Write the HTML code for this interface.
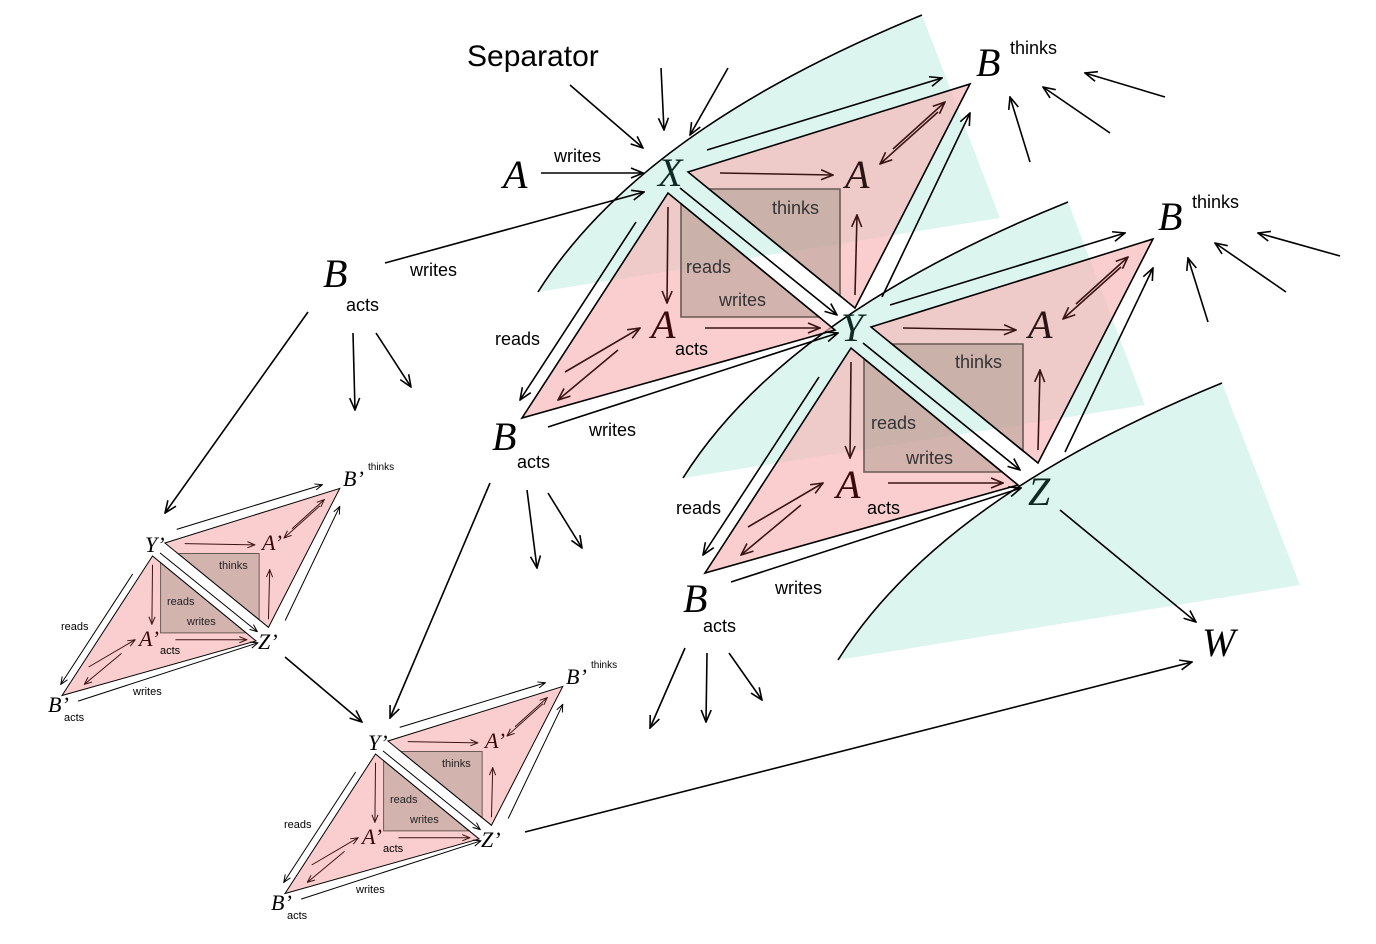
<!DOCTYPE html>
<html><head><meta charset="utf-8"><style>
html,body{margin:0;padding:0;background:#fff;}
svg{display:block}
.s{font-family:"Liberation Sans",sans-serif;}
.L{font-family:"Liberation Serif",serif;font-style:italic;}
</style></head><body>
<svg width="1376" height="944" viewBox="0 0 1376 944" xmlns="http://www.w3.org/2000/svg">
<defs>
<marker id="ar" markerWidth="14" markerHeight="12" refX="13" refY="6" orient="auto" markerUnits="userSpaceOnUse">
<path d="M1,1 L13,6 L1,11" fill="none" stroke="#000" stroke-width="1.6"/></marker>
<marker id="ad" markerWidth="14" markerHeight="12" refX="13" refY="6" orient="auto" markerUnits="userSpaceOnUse">
<path d="M1,1 L13,6 L1,11" fill="none" stroke="#3a1414" stroke-width="1.6"/></marker>
<g id="u">
<polygon points="16,0 298,-88 183,136" fill="#f8b4b4" fill-opacity="0.65"/>
<polygon points="-4,21 -150,246 163,158" fill="#f8b4b4" fill-opacity="0.65"/>
<g fill="#6f6f5f" fill-opacity="0.28" stroke="#6a5a55" stroke-width="1.6">
<polygon points="9,31.7 9,145 147,145"/>
<polygon points="37,17 168,17 168,124"/>
</g>
<polygon points="16,0 298,-88 183,136" fill="none" stroke="#000" stroke-width="1.6"/>
<polygon points="-4,21 -150,246 163,158" fill="none" stroke="#000" stroke-width="1.6"/>
<line x1="8" y1="16" x2="165" y2="143" stroke="#000" stroke-width="1.6" marker-end="url(#ar)"/>
<g stroke="#000" stroke-width="1.6" marker-end="url(#ar)">
<line x1="35" y1="-22" x2="270" y2="-94"/>
<line x1="210" y1="125" x2="298" y2="-59"/>
<line x1="-36" y1="50" x2="-152" y2="228"/>
<line x1="-124" y1="255" x2="166" y2="161"/>
</g>
<g stroke="#3a1414" stroke-width="1.6" marker-end="url(#ad)">
<line x1="48" y1="1" x2="161" y2="3"/>
<line x1="221" y1="-23" x2="273" y2="-70"/>
<line x1="266" y1="-60" x2="208" y2="-8"/>
<line x1="183" y1="123" x2="185" y2="43"/>
<line x1="-4" y1="35" x2="-5" y2="131"/>
<line x1="33" y1="156" x2="148" y2="156"/>
<line x1="-107" y1="200" x2="-32" y2="156"/>
<line x1="-54" y1="178" x2="-114" y2="228"/>
</g>
</g>
</defs>

<g fill="#d3f3ea" fill-opacity="0.8">
<path d="M538,292 Q640,130 922,15 L1000,218 Z"/>
<path d="M683,478 Q785,316 1068,202 L1145,405 Z"/>
<path d="M838,660 Q940,498 1222,383 L1300,585 Z"/>
</g>
<g fill="none" stroke="#000" stroke-width="1.6">
<path d="M538,292 Q640,130 922,15"/>
<path d="M683,478 Q785,316 1068,202"/>
<path d="M838,660 Q940,498 1222,383"/>
</g>

<use href="#u" transform="translate(672,172)"/>
<use href="#u" transform="translate(855,327)"/>
<use href="#u" transform="translate(155,543) scale(0.62)"/>
<use href="#u" transform="translate(378,741) scale(0.62)"/>

<g stroke="#000" stroke-width="1.6" marker-end="url(#ar)">
<line x1="570" y1="85" x2="643" y2="148"/>
<line x1="661" y1="68" x2="664" y2="130"/>
<line x1="728" y1="68" x2="690" y2="135"/>
<line x1="541" y1="173" x2="643" y2="173"/>
<line x1="385" y1="263" x2="644" y2="192"/>
<line x1="1030" y1="162" x2="1010" y2="97"/>
<line x1="1110" y1="133" x2="1043" y2="87"/>
<line x1="1165" y1="97" x2="1085" y2="73"/>
<line x1="1208" y1="322" x2="1188" y2="258"/>
<line x1="1286" y1="292" x2="1215" y2="243"/>
<line x1="1340" y1="256" x2="1258" y2="233"/>
<line x1="308" y1="312" x2="165" y2="513"/>
<line x1="353" y1="333" x2="355" y2="410"/>
<line x1="376" y1="333" x2="411" y2="387"/>
<line x1="490" y1="483" x2="390" y2="718"/>
<line x1="527" y1="490" x2="537" y2="568"/>
<line x1="548" y1="493" x2="582" y2="548"/>
<line x1="685" y1="648" x2="650" y2="728"/>
<line x1="707" y1="653" x2="706" y2="722"/>
<line x1="729" y1="653" x2="762" y2="700"/>
<line x1="1060" y1="510" x2="1196" y2="622"/>
<line x1="525" y1="832" x2="1192" y2="662"/>
<line x1="285" y1="657" x2="362" y2="722"/>
</g>

<text class="s" x="467" y="66" font-size="30">Separator</text>
<text class="s" x="554" y="162" font-size="18">writes</text>
<text class="L" x="503" y="188" font-size="40">A</text>
<text class="s" x="410" y="276" font-size="18">writes</text>
<text class="L" x="323" y="287" font-size="40">B</text>
<text class="s" x="346" y="311" font-size="18">acts</text>
<text class="L" x="976" y="76" font-size="40">B</text>
<text class="s" x="1010" y="54" font-size="18">thinks</text>
<text class="L" x="1158" y="230" font-size="40">B</text>
<text class="s" x="1192" y="208" font-size="18">thinks</text>
<text class="L" x="1202" y="656" font-size="40">W</text>

<g font-size="18" class="s">
<text class="L" x="658" y="186" font-size="40" fill="#0f2a24">X</text>
<text class="L" x="845" y="188" font-size="40" fill="#2a1414">A</text>
<text class="L" x="651" y="338" font-size="40" fill="#3a0a0a">A</text>
<text x="675" y="355">acts</text>
<text x="772" y="214" fill="#333">thinks</text>
<text x="686" y="273" fill="#333">reads</text>
<text x="719" y="306" fill="#333">writes</text>
<text x="495" y="345">reads</text>
<text x="589" y="436">writes</text>
<text class="L" x="492" y="450" font-size="40">B</text>
<text x="517" y="468">acts</text>
</g>
<g font-size="18" class="s">
<text class="L" x="841" y="341" font-size="40" fill="#0f2a24">Y</text>
<text class="L" x="1028" y="338" font-size="40" fill="#2a1414">A</text>
<text class="L" x="836" y="498" font-size="40" fill="#3a0a0a">A</text>
<text x="867" y="514">acts</text>
<text x="955" y="368" fill="#333">thinks</text>
<text x="871" y="429" fill="#333">reads</text>
<text x="906" y="464" fill="#333">writes</text>
<text x="676" y="514">reads</text>
<text x="775" y="594">writes</text>
<text class="L" x="683" y="612" font-size="40">B</text>
<text x="703" y="632">acts</text>
<text class="L" x="1028" y="505" font-size="40" fill="#0f2a24">Z</text>
</g>
<g class="s" font-size="11">
<text class="L" x="145" y="552" font-size="22">Y’</text>
<text class="L" x="262" y="550" font-size="22" fill="#3a0a0a">A’</text>
<text class="L" x="139" y="646" font-size="22" fill="#3a0a0a">A’</text>
<text x="160" y="654">acts</text>
<text x="219" y="569" fill="#222">thinks</text>
<text x="167" y="605" fill="#222">reads</text>
<text x="187" y="625" fill="#222">writes</text>
<text x="61" y="630">reads</text>
<text x="133" y="695">writes</text>
<text class="L" x="48" y="712" font-size="22">B’</text>
<text x="64" y="721">acts</text>
<text class="L" x="258" y="649" font-size="22">Z’</text>
<text class="L" x="343" y="486" font-size="22">B’</text>
<text x="368" y="470" font-size="10">thinks</text>
</g>
<g class="s" font-size="11">
<text class="L" x="368" y="750" font-size="22">Y’</text>
<text class="L" x="485" y="748" font-size="22" fill="#3a0a0a">A’</text>
<text class="L" x="362" y="844" font-size="22" fill="#3a0a0a">A’</text>
<text x="383" y="852">acts</text>
<text x="442" y="767" fill="#222">thinks</text>
<text x="390" y="803" fill="#222">reads</text>
<text x="410" y="823" fill="#222">writes</text>
<text x="284" y="828">reads</text>
<text x="356" y="893">writes</text>
<text class="L" x="271" y="910" font-size="22">B’</text>
<text x="287" y="919">acts</text>
<text class="L" x="481" y="847" font-size="22">Z’</text>
<text class="L" x="566" y="684" font-size="22">B’</text>
<text x="591" y="668" font-size="10">thinks</text>
</g>
</svg>
</body></html>
